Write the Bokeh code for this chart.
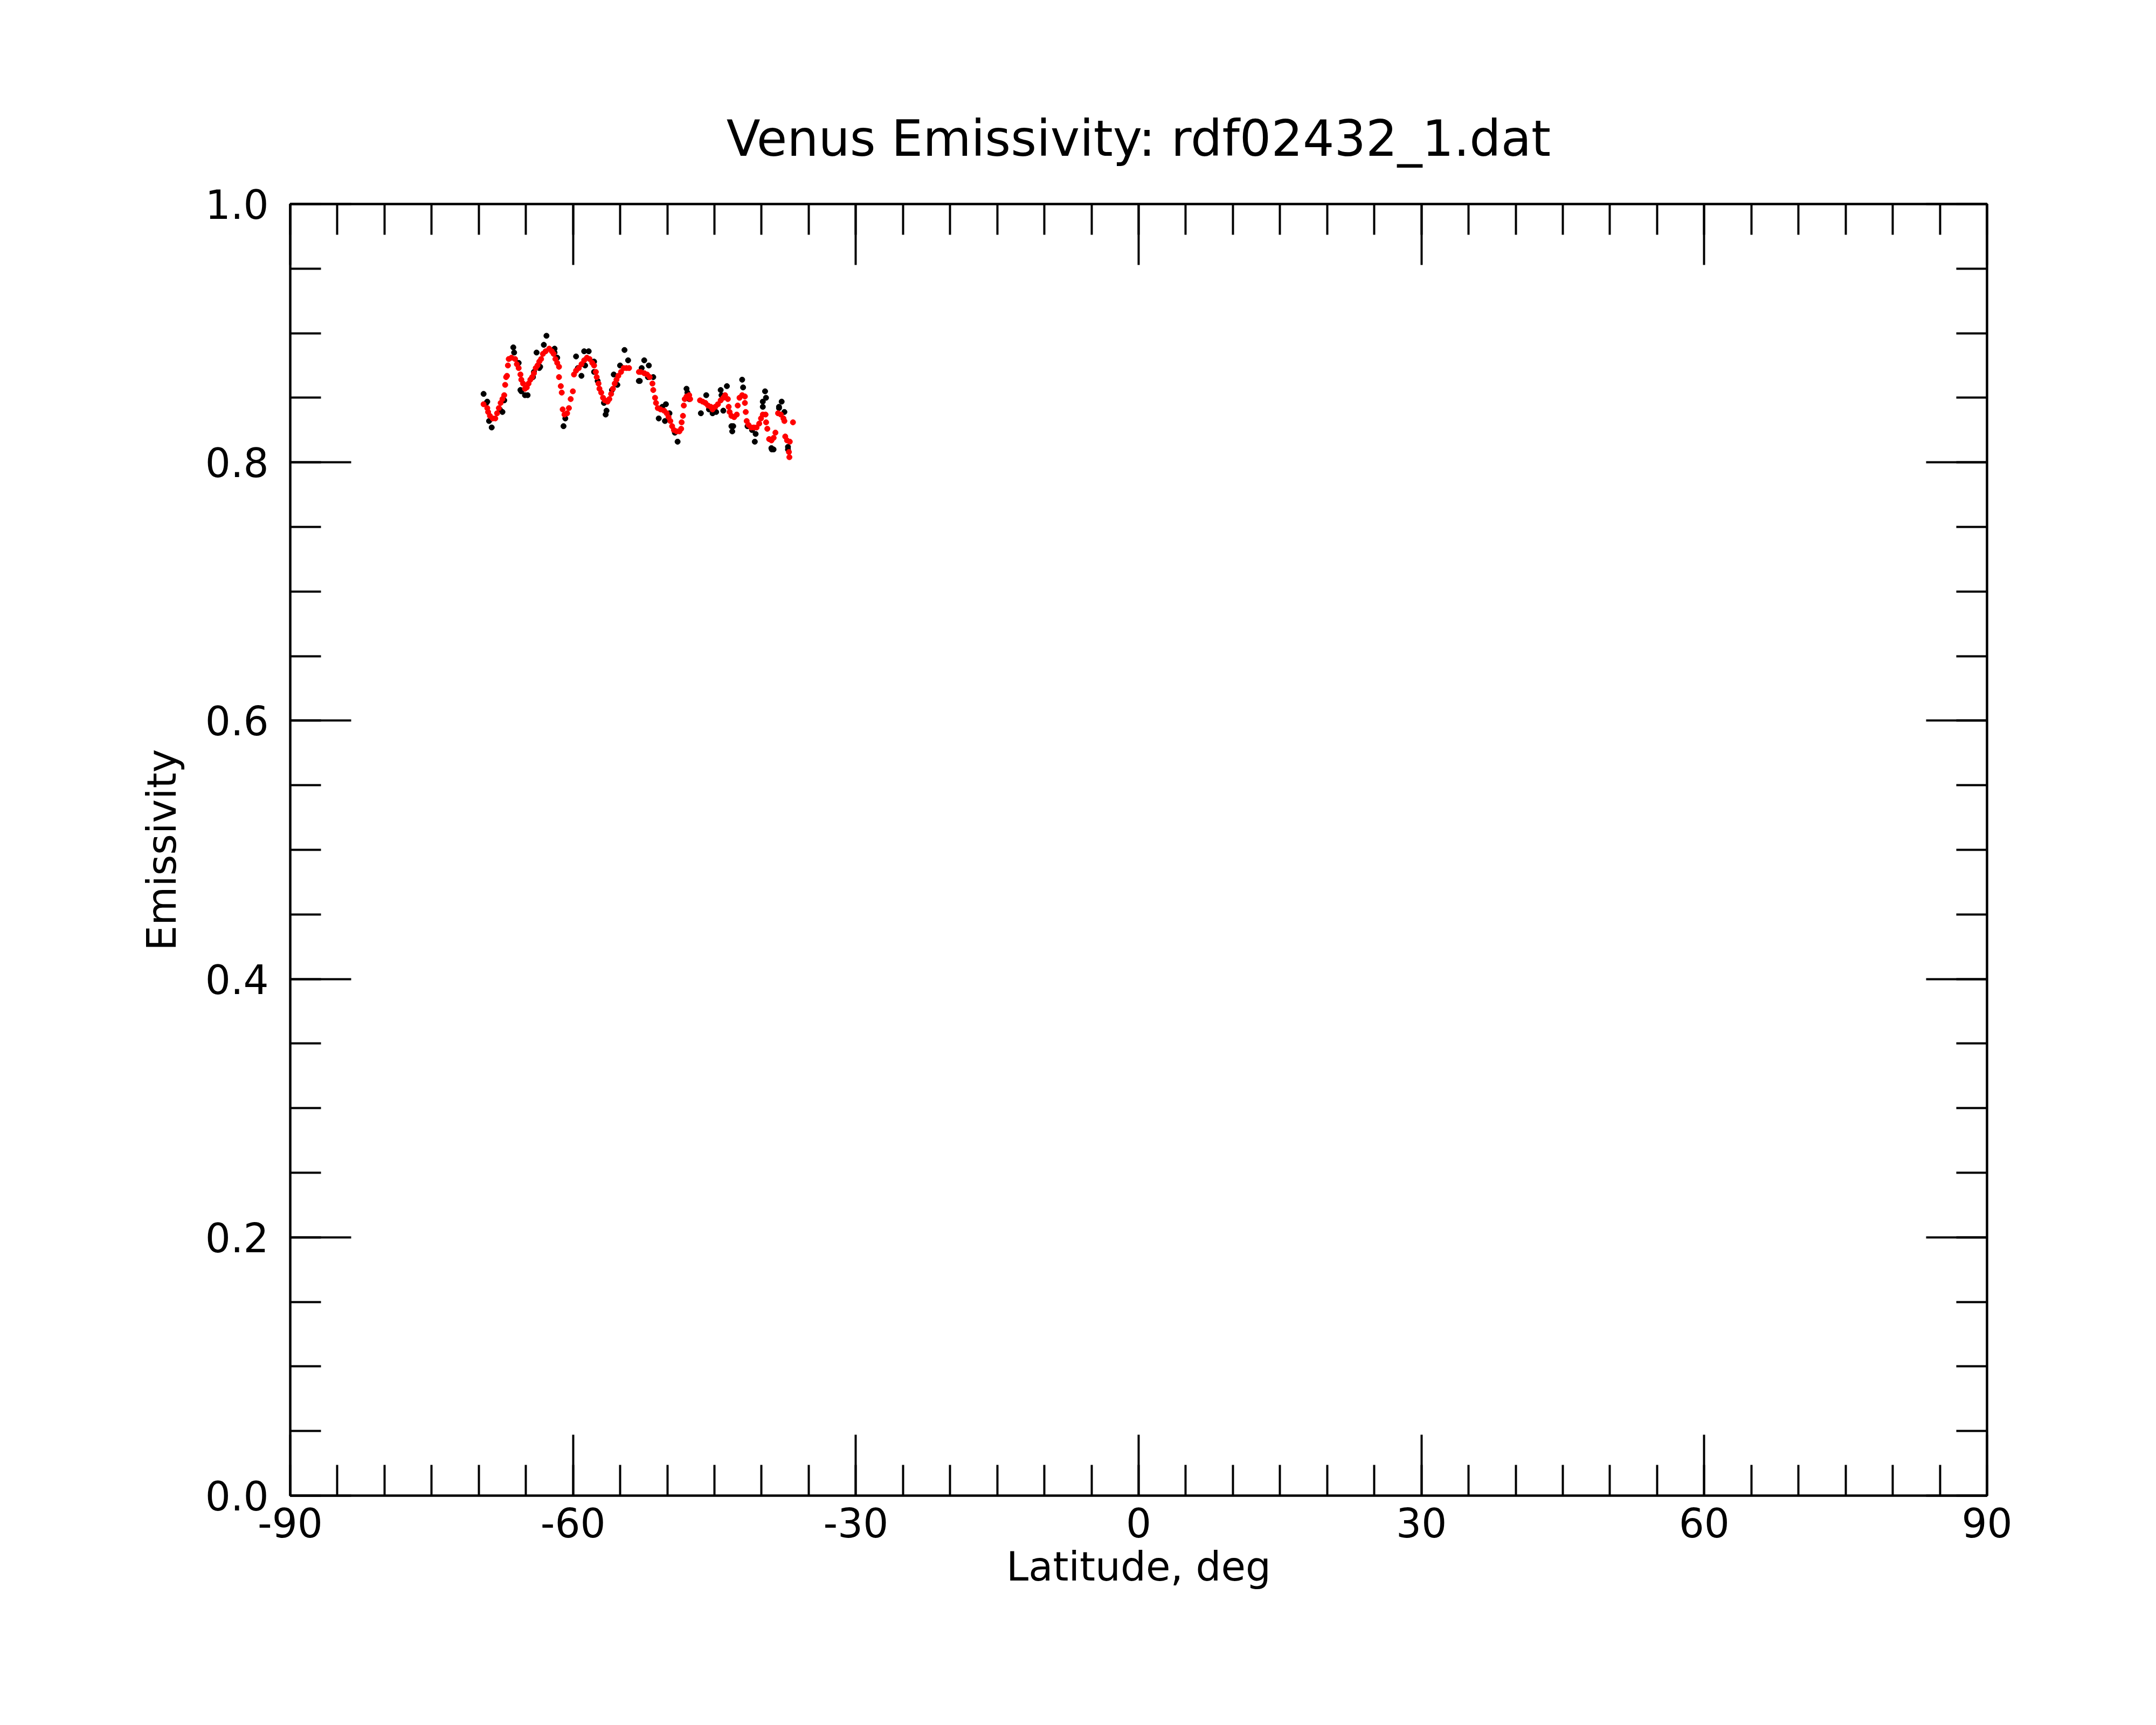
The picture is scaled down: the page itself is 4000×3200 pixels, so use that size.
from bokeh.plotting import figure
from bokeh.models import LinearAxis, FixedTicker, Range1d, PrintfTickFormatter
from bokeh.embed import file_html
from bokeh.resources import INLINE

title_text = "Venus Emissivity: rdf02432_1.dat"
x_label = "Latitude, deg"
y_label = "Emissivity"

x_major = [-90, -60, -30, 0, 30, 60, 90]
x_minor = [-90, -85, -80, -75, -70, -65, -60, -55, -50, -45, -40, -35, -30, -25, -20, -15, -10, -5,
           0, 5, 10, 15, 20, 25, 30, 35, 40, 45, 50, 55, 60, 65, 70, 75, 80, 85, 90]
y_major = [0.0, 0.2, 0.4, 0.6, 0.8, 1.0]
y_minor = [0.0, 0.05, 0.1, 0.15, 0.2, 0.25, 0.3, 0.35, 0.4, 0.45, 0.5, 0.55, 0.6, 0.65, 0.7, 0.75,
           0.8, 0.85, 0.9, 0.95, 1.0]

# raw emissivity samples (black)
black_lat = [-69.49, -69.20, -68.91, -68.63, -67.49, -67.30, -66.34, -66.25, -65.77, -65.49,
             -65.10, -64.82, -64.15, -63.87, -63.49, -63.10, -62.82, -61.96, -61.68, -61.01,
             -60.82, -59.68, -59.11, -58.82, -58.34, -57.77, -56.54, -56.45, -55.68, -55.30,
             -55.01, -54.54, -54.16, -52.92,
             -52.45, -51.96, -53.02, -51.49, -50.91, -50.25, -50.15, -48.91, -47.96, -47.68,
             -46.44, -45.87, -45.20, -44.34, -44.06, -43.68, -43.20, -43.11, -42.06, -41.96,
             -41.49, -40.72, -39.63, -39.53, -39.87, -38.96, -38.73, -37.87, -38.15, -37.20,
             -69.10, -67.77, -65.58, -64.25, -63.58, -61.96, -59.49, -58.72, -57.77, -57.39,
             -56.72, -55.87, -55.49, -52.72, -52.06, -50.53, -49.77, -49.20, -47.87, -45.58,
             -44.82, -44.25, -43.01, -41.01, -40.63, -39.87, -38.91, -38.15, -37.58, -37.20]
black_emis = [0.853, 0.846, 0.832, 0.827, 0.839, 0.848, 0.889, 0.885, 0.877, 0.855,
              0.852, 0.852, 0.870, 0.885, 0.874, 0.891, 0.898, 0.888, 0.881, 0.828,
              0.834, 0.882, 0.867, 0.886, 0.886, 0.878, 0.837, 0.840, 0.868, 0.860,
              0.875, 0.887, 0.879, 0.863,
              0.879, 0.875, 0.863, 0.866, 0.834, 0.832, 0.845, 0.816, 0.857, 0.849,
              0.838, 0.852, 0.838, 0.856, 0.840, 0.859, 0.828, 0.824, 0.864, 0.858,
              0.828, 0.816, 0.855, 0.850, 0.843, 0.811, 0.810, 0.847, 0.843, 0.812,
              0.847, 0.841, 0.856, 0.866, 0.873, 0.885, 0.873, 0.875, 0.870, 0.863,
              0.846, 0.856, 0.861, 0.873, 0.866, 0.843, 0.838, 0.823, 0.854, 0.841,
              0.839, 0.852, 0.828, 0.825, 0.822, 0.847, 0.810, 0.842, 0.839, 0.810]

# smoothed emissivity (red)
red_lat = [-69.49, -69.10, -69.01, -68.82, -68.53, -68.25, -68.06, -67.87, -67.68, -67.49,
           -67.30, -67.20, -67.10, -67.01, -66.91, -66.82, -66.53, -66.15, -65.96, -65.77,
           -65.58, -65.49, -65.30, -65.10, -64.91, -64.72, -64.53, -64.34, -64.15, -63.96,
           -63.77, -63.58, -63.39, -63.20, -62.91, -62.53, -62.25, -62.06, -61.87, -61.68,
           -61.49, -61.49, -61.30, -61.20, -61.10, -60.91, -60.63, -60.44, -60.25, -60.02,
           -59.90, -59.68, -59.39, -59.10, -58.82, -58.53, -58.25, -57.96, -57.77, -57.58,
           -57.49, -57.30, -57.20, -57.01, -56.82, -56.63, -56.34, -56.15, -55.96, -55.77,
           -55.58, -55.39, -55.20, -54.91, -54.63, -54.34, -54.06, -53.01,
           -52.82, -52.44, -52.15, -51.87, -51.58, -51.49, -51.30, -51.20, -51.01, -50.72,
           -50.34, -50.06, -49.87, -49.68, -49.49, -49.30, -49.01, -48.72, -48.53, -48.48,
           -48.34, -48.25, -48.15, -47.96, -47.68, -47.58, -46.53, -46.25, -45.96, -45.68,
           -45.39, -45.20, -44.91, -44.63, -44.34, -44.06, -43.87, -43.58, -43.49, -43.39,
           -43.20, -42.91, -42.63, -42.53, -42.34, -42.06, -41.77, -41.77, -41.68, -41.58,
           -41.39, -41.10, -40.82, -40.53, -40.25, -40.06, -39.87, -39.58, -39.52, -39.39,
           -39.20, -38.95, -38.72, -38.53, -38.25, -37.96, -37.68, -37.58, -37.49, -37.30,
           -37.01, -37.10, -37.05, -36.67]
red_emis = [0.845, 0.842, 0.839, 0.836, 0.834, 0.834, 0.838, 0.842, 0.846, 0.849,
            0.852, 0.860, 0.866, 0.867, 0.875, 0.880, 0.881, 0.880, 0.876, 0.873,
            0.868, 0.864, 0.861, 0.857, 0.858, 0.861, 0.864, 0.866, 0.869, 0.873,
            0.875, 0.878, 0.880, 0.884, 0.886, 0.888, 0.886, 0.884, 0.880, 0.877,
            0.874, 0.866, 0.859, 0.854, 0.841, 0.837, 0.838, 0.842, 0.849, 0.855,
            0.868, 0.871, 0.873, 0.876, 0.879, 0.881, 0.880, 0.877, 0.875, 0.870,
            0.866, 0.861, 0.857, 0.854, 0.850, 0.848, 0.847, 0.849, 0.853, 0.857,
            0.861, 0.864, 0.867, 0.870, 0.873, 0.873, 0.873, 0.870,
            0.870, 0.869, 0.868, 0.866, 0.861, 0.856, 0.850, 0.846, 0.842, 0.841,
            0.840, 0.838, 0.835, 0.832, 0.828, 0.825, 0.824, 0.824, 0.826, 0.831,
            0.836, 0.844, 0.849, 0.851, 0.852, 0.849, 0.848, 0.847, 0.846, 0.844,
            0.843, 0.841, 0.843, 0.845, 0.848, 0.850, 0.852, 0.849, 0.843, 0.839,
            0.836, 0.835, 0.837, 0.844, 0.850, 0.852, 0.851, 0.846, 0.839, 0.832,
            0.829, 0.827, 0.827, 0.827, 0.830, 0.834, 0.837, 0.837, 0.831, 0.826,
            0.818, 0.817, 0.819, 0.823, 0.838, 0.837, 0.834, 0.832, 0.820, 0.817,
            0.816, 0.808, 0.804, 0.831]

FONT = "DejaVu Sans"

p = figure(width=3984, height=3184, x_range=Range1d(-90, 90), y_range=Range1d(0, 1),
           output_backend="svg", toolbar_location=None,
           x_axis_type=None, y_axis_type=None,
           min_border_left=538, min_border_right=298, min_border_top=378, min_border_bottom=410)
p.background_fill_color = "white"
p.border_fill_color = "white"
p.outline_line_color = "black"
p.outline_line_width = 4
p.xgrid.visible = False
p.ygrid.visible = False

p.title.text = title_text
p.title.align = "center"
p.title.text_font = FONT
p.title.text_font_size = "92px"
p.title.text_font_style = "normal"
p.title.text_color = "black"
p.title.standoff = 136

xt = FixedTicker(ticks=x_major, minor_ticks=x_minor)
yt = FixedTicker(ticks=y_major, minor_ticks=y_minor)


def style(ax, show_labels):
    ax.major_tick_in = 113
    ax.major_tick_out = 0
    ax.minor_tick_in = 57
    ax.minor_tick_out = 0
    ax.axis_line_width = 4
    ax.axis_line_color = "black"
    ax.major_tick_line_width = 4
    ax.minor_tick_line_width = 4
    ax.major_tick_line_color = "black"
    ax.minor_tick_line_color = "black"
    ax.major_label_text_font = FONT
    ax.axis_label_text_font = FONT
    ax.axis_label_text_font_style = "normal"
    ax.axis_label_text_color = "black"
    ax.axis_label_text_font_size = "74px"
    if show_labels:
        ax.major_label_text_font_size = "74px"
        ax.major_label_text_color = "black"
    else:
        ax.major_label_text_font_size = "10px"
        ax.major_label_text_color = None
        ax.major_label_standoff = 0


xb = LinearAxis(ticker=xt, formatter=PrintfTickFormatter(format="%d"), axis_label=x_label)
style(xb, True)
xb.major_label_standoff = 22
xb.axis_label_standoff = 8
p.add_layout(xb, "below")

xa = LinearAxis(ticker=xt)
style(xa, False)
p.add_layout(xa, "above")

yl = LinearAxis(ticker=yt, formatter=PrintfTickFormatter(format="%.1f"), axis_label=y_label)
style(yl, True)
yl.major_label_standoff = 40
yl.axis_label_standoff = 35
p.add_layout(yl, "left")

yr = LinearAxis(ticker=yt)
style(yr, False)
p.add_layout(yr, "right")

p.scatter(black_lat, black_emis, marker="circle", size=10, fill_color="black", line_color="black")
p.scatter(red_lat, red_emis, marker="circle", size=10, fill_color="#ff0000", line_color="#ff0000")

open("out.html", "w").write(file_html(p, INLINE))
